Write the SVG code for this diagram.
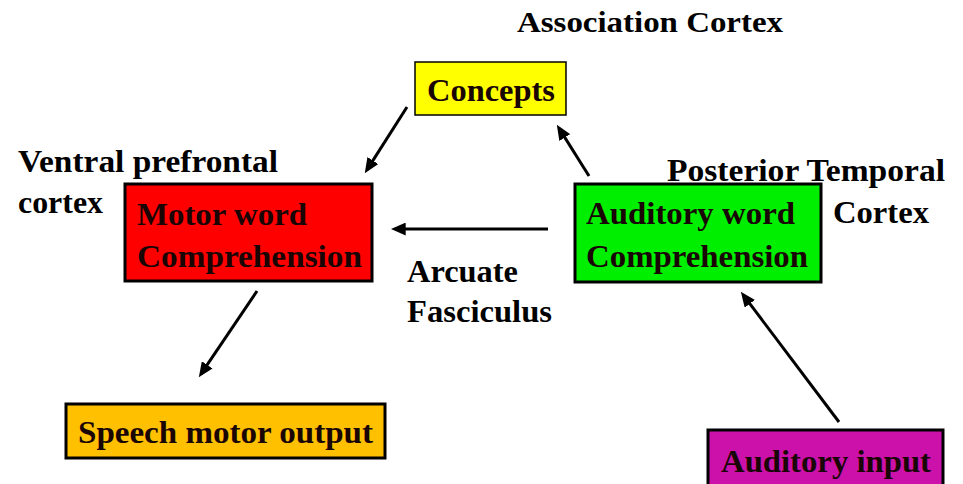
<svg xmlns="http://www.w3.org/2000/svg" width="963" height="484" viewBox="0 0 963 484">
<defs>
<style>
text{font-family:"Liberation Serif","Times New Roman",serif;font-weight:bold;font-size:32px;fill:#000}
.in{fill:#1a0505}
.box{stroke:#000;stroke-width:3}
.con line{stroke:#000;stroke-width:3;marker-end:url(#ah)}
</style>
<marker id="ah" markerUnits="userSpaceOnUse" markerWidth="15" markerHeight="13" refX="10" refY="6" orient="auto" viewBox="0 0 14 12">
<path d="M0,0 L14,6 L0,12 z" fill="#000"/>
</marker>
</defs>
<rect width="963" height="484" fill="#fff"/>
<g id="label-association">
<text x="517" y="32" textLength="266" lengthAdjust="spacingAndGlyphs" style="font-size:29px">Association Cortex</text>
</g>
<g id="concepts">
<rect x="415" y="62" width="151" height="53" fill="#ffff00" stroke="#000" stroke-width="1.5"/>
<text class="in" x="427" y="101" textLength="128" lengthAdjust="spacingAndGlyphs">Concepts</text>
</g>
<g id="label-ventral">
<text x="18" y="172" textLength="260" lengthAdjust="spacingAndGlyphs">Ventral prefrontal</text>
<text x="18" y="213" textLength="85" lengthAdjust="spacingAndGlyphs">cortex</text>
</g>
<g id="motor">
<rect class="box" x="125" y="184" width="247" height="97" fill="#ff0000"/>
<text class="in" x="137" y="225" textLength="170" lengthAdjust="spacingAndGlyphs">Motor word</text>
<text class="in" x="137" y="267" textLength="225" lengthAdjust="spacingAndGlyphs">Comprehension</text>
</g>
<g id="auditory-word">
<rect class="box" x="575" y="184" width="246" height="98" fill="#00ee00"/>
<text class="in" x="586" y="224" textLength="209" lengthAdjust="spacingAndGlyphs">Auditory word</text>
<text class="in" x="586" y="267" textLength="222" lengthAdjust="spacingAndGlyphs">Comprehension</text>
</g>
<g id="label-posterior">
<text x="667" y="181" textLength="278" lengthAdjust="spacingAndGlyphs">Posterior Temporal</text>
<text x="833" y="223" textLength="96" lengthAdjust="spacingAndGlyphs">Cortex</text>
</g>
<g id="label-arcuate">
<text x="407" y="282" textLength="111" lengthAdjust="spacingAndGlyphs">Arcuate</text>
<text x="407" y="322" textLength="145" lengthAdjust="spacingAndGlyphs">Fasciculus</text>
</g>
<g id="speech">
<rect class="box" x="66" y="404" width="319" height="54" fill="#ffc000"/>
<text class="in" x="78" y="443" textLength="295" lengthAdjust="spacingAndGlyphs">Speech motor output</text>
</g>
<g id="auditory-input">
<rect class="box" x="708" y="430" width="235" height="60" fill="#cc11aa"/>
<text class="in" x="721" y="472" textLength="210" lengthAdjust="spacingAndGlyphs">Auditory input</text>
</g>
<g id="connectors" class="con">
<line x1="407" y1="107" x2="367.1" y2="169.6"/>
<line x1="589" y1="176" x2="559.1" y2="128.4"/>
<line x1="548" y1="229" x2="395" y2="229"/>
<line x1="257" y1="291" x2="201.2" y2="373.7"/>
<line x1="839" y1="422" x2="743.4" y2="295.2"/>
</g>
</svg>
